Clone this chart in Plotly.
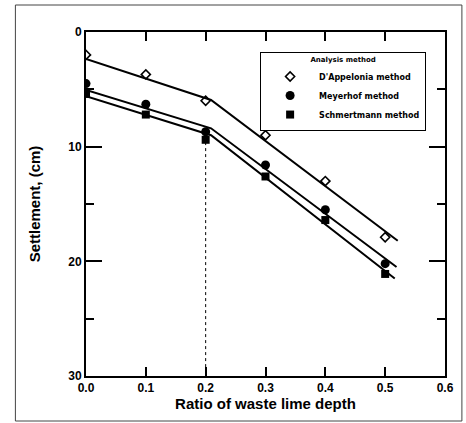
import plotly.graph_objects as go

# Data
ratio = [0.0, 0.1, 0.2, 0.3, 0.4, 0.5]
dappelonia = [2.0, 3.7, 6.0, 9.0, 13.0, 17.9]
meyerhof = [4.5, 6.3, 8.7, 11.6, 15.5, 20.2]
schmertmann = [5.4, 7.2, 9.4, 12.6, 16.4, 21.1]

# fitted (piecewise) lines
fit_x_d = [0.0, 0.209, 0.521]
fit_y_d = [2.35, 5.93, 18.2]
fit_x_m = [0.0, 0.209, 0.519]
fit_y_m = [5.05, 8.4, 20.5]
fit_x_s = [0.0, 0.209, 0.516]
fit_y_s = [5.6, 9.0, 21.5]

guide_x = [0.2, 0.2]
guide_y = [9.6, 30]

x_ticks = [0, 0.1, 0.2, 0.3, 0.4, 0.5, 0.6]
x_ticklabels = ["0.0", "0.1", "0.2", "0.3", "0.4", "0.5", "0.6"]
y_ticks = [0, 10, 20, 30]
y_ticklabels = ["0", "10", "20", "30"]

names = ["D'Appelonia method", "Meyerhof method", "Schmertmann method"]

FONT = "Arial, Liberation Sans, sans-serif"
LFONT = "DejaVu Sans, sans-serif"

fig = go.Figure()

for fx, fy in [(fit_x_d, fit_y_d), (fit_x_m, fit_y_m), (fit_x_s, fit_y_s)]:
    fig.add_trace(go.Scatter(x=fx, y=fy, mode="lines",
                             line=dict(color="black", width=2),
                             showlegend=False, hoverinfo="skip"))

fig.add_trace(go.Scatter(x=guide_x, y=guide_y, mode="lines",
                         line=dict(color="black", width=1, dash="3px,3px"),
                         showlegend=False, hoverinfo="skip"))

fig.add_trace(go.Scatter(x=ratio, y=dappelonia, mode="markers", name=names[0],
                         legendgroup="a",
                         marker=dict(symbol="diamond-open", size=7, color="black",
                                     line=dict(width=1.6, color="black"))))
fig.add_trace(go.Scatter(x=ratio, y=meyerhof, mode="markers", name=names[1],
                         legendgroup="b",
                         marker=dict(symbol="circle", size=9, color="black")))
fig.add_trace(go.Scatter(x=ratio, y=schmertmann, mode="markers", name=names[2],
                         legendgroup="c",
                         marker=dict(symbol="square", size=8, color="black")))

axis_common = dict(
    showline=True, linecolor="black", linewidth=2, mirror="ticks",
    ticks="inside", tickwidth=2, tickcolor="black",
    showgrid=False, zeroline=False,
    tickfont=dict(family=FONT, size=12, color="black", weight="bold"),
)

fig.update_xaxes(
    range=[0, 0.6], tickvals=x_ticks, ticktext=x_ticklabels, ticklen=9,
    title=dict(text="Ratio of waste lime depth", standoff=4,
               font=dict(family=FONT, size=15, color="black", weight="bold")),
    **axis_common,
)

fig.update_yaxes(
    range=[30, 0], tickvals=y_ticks, ticktext=y_ticklabels, ticklen=16,
    title=dict(text="Settlement, (cm)", standoff=24,
               font=dict(family=FONT, size=15, color="black", weight="bold")),
    minor=dict(ticks="inside", ticklen=8, tickwidth=2, tickcolor="black", dtick=5),
    **axis_common,
)

fig.update_layout(
    width=466, height=423,
    margin=dict(l=86, r=19, t=32, b=47),
    paper_bgcolor="white", plot_bgcolor="white",
    font=dict(family=FONT, color="black"),
    legend=dict(
        x=0.485, y=0.942, xanchor="left", yanchor="top",
        bordercolor="black", borderwidth=1, bgcolor="white",
        font=dict(family=LFONT, size=8, color="black", weight="bold"),
        title=dict(text="Analysis method", side="top center",
                   font=dict(family=LFONT, size=7, color="black", weight="bold")),
        itemsizing="trace", traceorder="grouped", tracegroupgap=0,
        itemwidth=48,
    ),
    shapes=[dict(type="rect", xref="paper", yref="paper",
                 x0=(15 - 86) / 361, x1=(464 - 86) / 361,
                 y0=(376 - 421) / 344, y1=(376 - 5) / 344,
                 line=dict(color="#444", width=1))],
)

fig.write_html("out.html")
